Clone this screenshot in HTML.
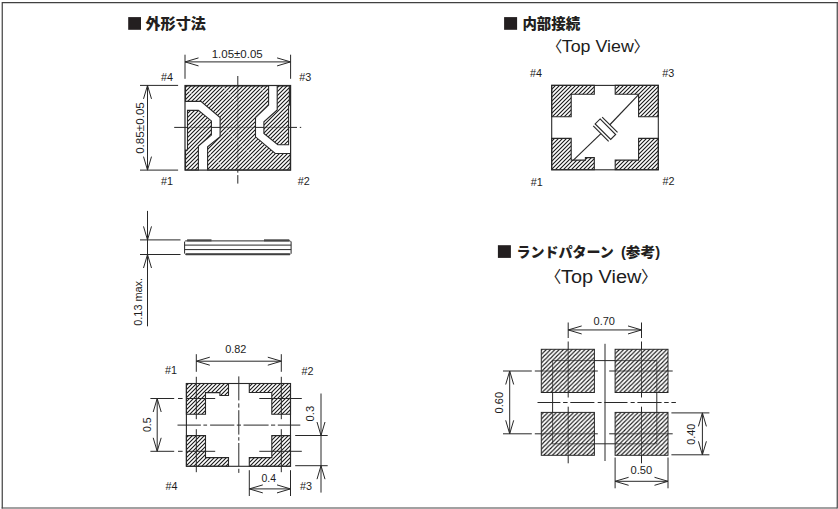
<!DOCTYPE html>
<html lang="ja">
<head>
<meta charset="utf-8">
<title>外形寸法</title>
<style>
html,body{margin:0;padding:0;background:#fff;}
body{width:838px;height:509px;overflow:hidden;font-family:"Liberation Sans", "Noto Sans CJK JP", sans-serif;}
svg{display:block;}
</style>
</head>
<body>
<svg width="838" height="509" viewBox="0 0 838 509">
<defs>
<pattern id="h1" patternUnits="userSpaceOnUse" x="1.0" y="0" width="4" height="4"><path d="M-1,1L1,-1M-1,5L5,-1M3,5L5,3" stroke="#181818" stroke-width="1.1" fill="none"/></pattern>
<pattern id="h3" patternUnits="userSpaceOnUse" x="0.0" y="0" width="4" height="4"><path d="M-1,1L1,-1M-1,5L5,-1M3,5L5,3" stroke="#181818" stroke-width="1.1" fill="none"/></pattern>
<pattern id="h4" patternUnits="userSpaceOnUse" x="1.0" y="0" width="4" height="4"><path d="M-1,1L1,-1M-1,5L5,-1M3,5L5,3" stroke="#181818" stroke-width="1.1" fill="none"/></pattern>
<pattern id="h5" patternUnits="userSpaceOnUse" x="1.44" y="0" width="4.3" height="4.3"><path d="M-1,1L1,-1M-1,5.3L5.3,-1M3.3,5.3L5.3,3.3" stroke="#181818" stroke-width="1.1" fill="none"/></pattern>
</defs>
<rect x="0" y="0" width="838" height="509" fill="#ffffff"/>
<path d="M2.25,508.5V2.55H837.9" fill="none" stroke="#404040" stroke-width="1.2"/>
<path d="M1.6,508.05H837.2" fill="none" stroke="#454545" stroke-width="1.1"/>
<path d="M837.25,1.95V508.6" fill="none" stroke="#454545" stroke-width="1.2"/>
<rect x="128.2" y="17.1" width="12.8" height="12.7" fill="#231f20"/>
<text x="145.5" y="28.6" font-size="14.5" text-anchor="start" font-weight="900" fill="#231f20" font-family='"Liberation Sans", "Noto Sans CJK JP", sans-serif' textLength="60.5" lengthAdjust="spacingAndGlyphs">外形寸法</text>
<rect x="504.1" y="17.1" width="13" height="12.7" fill="#231f20"/>
<text x="522.4" y="28.9" font-size="14.5" text-anchor="start" font-weight="900" fill="#231f20" font-family='"Liberation Sans", "Noto Sans CJK JP", sans-serif' textLength="57.8" lengthAdjust="spacingAndGlyphs">内部接続</text>
<rect x="497.9" y="245.2" width="13.0" height="12.7" fill="#231f20"/>
<text x="516.4" y="256.5" font-size="14" text-anchor="start" font-weight="900" fill="#231f20" font-family='"Liberation Sans", "Noto Sans CJK JP", sans-serif' textLength="97.3" lengthAdjust="spacingAndGlyphs">ランドパターン</text>
<text x="620.9" y="256.5" font-size="14" text-anchor="start" font-weight="900" fill="#231f20" font-family='"Liberation Sans", "Noto Sans CJK JP", sans-serif' textLength="39.2" lengthAdjust="spacingAndGlyphs">(参考)</text>
<text x="562.3" y="51.7" font-size="15.5" text-anchor="end" font-weight="normal" fill="#1c1c1c" font-family='"Liberation Sans", "Noto Sans CJK JP", sans-serif'>〈</text>
<text x="561.8" y="51.7" font-size="16.5" text-anchor="start" font-weight="normal" fill="#1c1c1c" font-family='"Liberation Sans", "Noto Sans CJK JP", sans-serif' textLength="72.0" lengthAdjust="spacingAndGlyphs">Top View</text>
<text x="633.4" y="51.7" font-size="15.5" text-anchor="start" font-weight="normal" fill="#1c1c1c" font-family='"Liberation Sans", "Noto Sans CJK JP", sans-serif'>〉</text>
<text x="561.4" y="282.3" font-size="16.3" text-anchor="end" font-weight="normal" fill="#1c1c1c" font-family='"Liberation Sans", "Noto Sans CJK JP", sans-serif'>〈</text>
<text x="561.0" y="282.7" font-size="18.3" text-anchor="start" font-weight="normal" fill="#1c1c1c" font-family='"Liberation Sans", "Noto Sans CJK JP", sans-serif' textLength="80.4" lengthAdjust="spacingAndGlyphs">Top View</text>
<text x="641.0" y="282.3" font-size="16.3" text-anchor="start" font-weight="normal" fill="#1c1c1c" font-family='"Liberation Sans", "Noto Sans CJK JP", sans-serif'>〉</text>
<line x1="174.2" y1="127.4" x2="297" y2="127.4" stroke="#282828" stroke-width="1.0"/>
<line x1="299.8" y1="127.4" x2="301.2" y2="127.4" stroke="#282828" stroke-width="1.0"/>
<line x1="237.8" y1="76" x2="237.8" y2="172.7" stroke="#282828" stroke-width="1.0"/>
<line x1="237.8" y1="175.1" x2="237.8" y2="183.6" stroke="#282828" stroke-width="1.0"/>
<polygon points="185.5,86 268.6,86 268.6,105.1 255.5,117.6 255.5,136.8 275.2,153.5 290.3,153.5 290.3,170 207.6,170 207.6,146.8 220.1,136.8 220.1,117.6 200.9,101.4 185.5,101.4" fill="#fff" fill-opacity="0.55" stroke="none"/>
<polygon points="185.5,86 268.6,86 268.6,105.1 255.5,117.6 255.5,136.8 275.2,153.5 290.3,153.5 290.3,170 207.6,170 207.6,146.8 220.1,136.8 220.1,117.6 200.9,101.4 185.5,101.4" fill="url(#h1)" stroke="#282828" stroke-width="1.1" stroke-linejoin="miter"/>
<polygon points="187.5,110.4 198.4,110.4 211.4,120.9 211.4,135.1 198.4,146 198.4,170 185.5,170 185.5,150 187.5,150" fill="#fff" fill-opacity="0.55" stroke="none"/>
<polygon points="187.5,110.4 198.4,110.4 211.4,120.9 211.4,135.1 198.4,146 198.4,170 185.5,170 185.5,150 187.5,150" fill="url(#h1)" stroke="#282828" stroke-width="1.1" stroke-linejoin="miter"/>
<polygon points="277.2,86 289.4,86 289.4,105 288.6,106 288.6,144.8 277.8,144.8 263.9,133.5 263.9,121.8 277.2,110" fill="#fff" fill-opacity="0.55" stroke="none"/>
<polygon points="277.2,86 289.4,86 289.4,105 288.6,106 288.6,144.8 277.8,144.8 263.9,133.5 263.9,121.8 277.2,110" fill="url(#h1)" stroke="#282828" stroke-width="1.1" stroke-linejoin="miter"/>
<line x1="222.9" y1="86.6" x2="237.6" y2="103" stroke="#fff" stroke-width="0.8" stroke-opacity="0.75" stroke-dasharray="5 2"/>
<line x1="226.3" y1="129.8" x2="256.6" y2="160" stroke="#fff" stroke-width="0.8" stroke-opacity="0.75" stroke-dasharray="5 2"/>
<line x1="208.2" y1="151.4" x2="221.2" y2="165.2" stroke="#fff" stroke-width="0.8" stroke-opacity="0.75" stroke-dasharray="5 2"/>
<line x1="189.2" y1="90.9" x2="194.4" y2="97.8" stroke="#fff" stroke-width="0.8" stroke-opacity="0.75" stroke-dasharray="5 2"/>
<line x1="260" y1="88.3" x2="267" y2="92.6" stroke="#fff" stroke-width="0.8" stroke-opacity="0.75" stroke-dasharray="5 2"/>
<rect x="185.0" y="85.5" width="105.6" height="84.6" fill="none" stroke="#282828" stroke-width="1.2"/>
<line x1="185" y1="54.7" x2="185" y2="78.8" stroke="#282828" stroke-width="1.0"/>
<line x1="290.6" y1="54.7" x2="290.6" y2="78.8" stroke="#282828" stroke-width="1.0"/>
<line x1="185" y1="61.9" x2="290.6" y2="61.9" stroke="#282828" stroke-width="1.0"/>
<polyline points="198.5,57.9 185,61.9 198.5,65.9" fill="none" stroke="#282828" stroke-width="1.0" stroke-linejoin="miter"/>
<polyline points="277.1,65.9 290.6,61.9 277.1,57.9" fill="none" stroke="#282828" stroke-width="1.0" stroke-linejoin="miter"/>
<text x="237.2" y="57.7" font-size="11.5" text-anchor="middle" font-weight="normal" fill="#1c1c1c" font-family='"Liberation Sans", "Noto Sans CJK JP", sans-serif' textLength="51" lengthAdjust="spacingAndGlyphs">1.05±0.05</text>
<line x1="140" y1="85.4" x2="178.1" y2="85.4" stroke="#282828" stroke-width="1.0"/>
<line x1="140" y1="170.1" x2="178.1" y2="170.1" stroke="#282828" stroke-width="1.0"/>
<line x1="147.5" y1="85.4" x2="147.5" y2="170.1" stroke="#282828" stroke-width="1.0"/>
<polyline points="151.5,98.9 147.5,85.4 143.5,98.9" fill="none" stroke="#282828" stroke-width="1.0" stroke-linejoin="miter"/>
<polyline points="143.5,156.6 147.5,170.1 151.5,156.6" fill="none" stroke="#282828" stroke-width="1.0" stroke-linejoin="miter"/>
<text x="144.1" y="128" font-size="11.5" text-anchor="middle" font-weight="normal" fill="#1c1c1c" font-family='"Liberation Sans", "Noto Sans CJK JP", sans-serif' transform="rotate(-90 144.1 128)" textLength="51.7" lengthAdjust="spacingAndGlyphs">0.85±0.05</text>
<text x="161" y="80.9" font-size="10.8" text-anchor="start" font-weight="normal" fill="#1c1c1c" font-family='"Liberation Sans", "Noto Sans CJK JP", sans-serif'>#4</text>
<text x="299.3" y="80.9" font-size="10.8" text-anchor="start" font-weight="normal" fill="#1c1c1c" font-family='"Liberation Sans", "Noto Sans CJK JP", sans-serif'>#3</text>
<text x="161" y="185.1" font-size="10.8" text-anchor="start" font-weight="normal" fill="#1c1c1c" font-family='"Liberation Sans", "Noto Sans CJK JP", sans-serif'>#1</text>
<text x="297.7" y="185.1" font-size="10.8" text-anchor="start" font-weight="normal" fill="#1c1c1c" font-family='"Liberation Sans", "Noto Sans CJK JP", sans-serif'>#2</text>
<line x1="147.5" y1="210.9" x2="147.5" y2="326.3" stroke="#282828" stroke-width="1.0"/>
<line x1="140" y1="239.9" x2="180.5" y2="239.9" stroke="#282828" stroke-width="1.0"/>
<line x1="140" y1="254.5" x2="180.5" y2="254.5" stroke="#282828" stroke-width="1.0"/>
<polyline points="143.5,226.4 147.5,239.9 151.5,226.4" fill="none" stroke="#282828" stroke-width="1.0" stroke-linejoin="miter"/>
<polyline points="151.5,268.0 147.5,254.5 143.5,268.0" fill="none" stroke="#282828" stroke-width="1.0" stroke-linejoin="miter"/>
<text x="141.6" y="301.8" font-size="11.2" text-anchor="middle" font-weight="normal" fill="#1c1c1c" font-family='"Liberation Sans", "Noto Sans CJK JP", sans-serif' transform="rotate(-90 141.6 301.8)" textLength="47.8" lengthAdjust="spacingAndGlyphs">0.13 max.</text>
<polygon points="185.6,240.9 290.2,240.9 291.1,241.8 291.1,253.4 290.2,254.3 185.6,254.3 184.6,253.4 184.6,241.8" fill="none" stroke="#282828" stroke-width="1.0" stroke-linejoin="miter"/>
<line x1="184.6" y1="245.1" x2="291.1" y2="245.1" stroke="#282828" stroke-width="1.0"/>
<line x1="184.6" y1="249.6" x2="291.1" y2="249.6" stroke="#282828" stroke-width="1.0"/>
<line x1="187.1" y1="240.35" x2="211.5" y2="240.35" stroke="#484848" stroke-width="2.1"/>
<line x1="264.0" y1="240.35" x2="289.3" y2="240.35" stroke="#484848" stroke-width="2.1"/>
<line x1="185.8" y1="254.2" x2="289.9" y2="254.2" stroke="#404040" stroke-width="1.9"/>
<polygon points="186.4,383.5 228.5,383.5 228.5,395.5 219.9,395.5 219.9,392.6 205.5,392.6 205.5,414.2 186.4,414.2" fill="url(#h3)" stroke="#282828" stroke-width="1.1" stroke-linejoin="miter"/>
<polygon points="249.3,383.5 290.5,383.5 290.5,414.2 271.8,414.2 271.8,392.5 249.3,392.5" fill="url(#h3)" stroke="#282828" stroke-width="1.1" stroke-linejoin="miter"/>
<polygon points="186.4,435.6 205.5,435.6 205.5,457.6 228.5,457.6 228.5,466.3 186.4,466.3" fill="url(#h3)" stroke="#282828" stroke-width="1.1" stroke-linejoin="miter"/>
<polygon points="271.8,435.6 290.5,435.6 290.5,466.3 249.3,466.3 249.3,457.6 271.8,457.6" fill="url(#h3)" stroke="#282828" stroke-width="1.1" stroke-linejoin="miter"/>
<rect x="186.4" y="383.5" width="104.1" height="82.8" fill="none" stroke="#282828" stroke-width="1.1"/>
<line x1="177.5" y1="425.1" x2="200.9" y2="425.1" stroke="#282828" stroke-width="1.0"/>
<line x1="203.4" y1="425.1" x2="207.1" y2="425.1" stroke="#282828" stroke-width="1.0"/>
<line x1="210.1" y1="425.1" x2="234.3" y2="425.1" stroke="#282828" stroke-width="1.0"/>
<line x1="236.8" y1="425.1" x2="241" y2="425.1" stroke="#282828" stroke-width="1.0"/>
<line x1="243.5" y1="425.1" x2="268.6" y2="425.1" stroke="#282828" stroke-width="1.0"/>
<line x1="271" y1="425.1" x2="275.2" y2="425.1" stroke="#282828" stroke-width="1.0"/>
<line x1="277.8" y1="425.1" x2="300.3" y2="425.1" stroke="#282828" stroke-width="1.0"/>
<line x1="238.8" y1="376.4" x2="238.8" y2="400.4" stroke="#282828" stroke-width="1.0"/>
<line x1="238.8" y1="403.4" x2="238.8" y2="407.6" stroke="#282828" stroke-width="1.0"/>
<line x1="238.8" y1="410.2" x2="238.8" y2="434.6" stroke="#282828" stroke-width="1.0"/>
<line x1="238.8" y1="437.2" x2="238.8" y2="440.6" stroke="#282828" stroke-width="1.0"/>
<line x1="238.8" y1="443" x2="238.8" y2="466" stroke="#282828" stroke-width="1.0"/>
<line x1="238.8" y1="468.8" x2="238.8" y2="472.9" stroke="#282828" stroke-width="1.0"/>
<line x1="196.3" y1="354.2" x2="196.3" y2="371.8" stroke="#282828" stroke-width="1.0"/>
<line x1="196.3" y1="376.8" x2="196.3" y2="419.2" stroke="#282828" stroke-width="1.0"/>
<line x1="196.3" y1="429.2" x2="196.3" y2="472.2" stroke="#282828" stroke-width="1.0"/>
<line x1="281.3" y1="354.2" x2="281.3" y2="371.8" stroke="#282828" stroke-width="1.0"/>
<line x1="281.3" y1="376.8" x2="281.3" y2="419.2" stroke="#282828" stroke-width="1.0"/>
<line x1="281.3" y1="429.2" x2="281.3" y2="472.2" stroke="#282828" stroke-width="1.0"/>
<line x1="150.4" y1="398.5" x2="174.2" y2="398.5" stroke="#282828" stroke-width="1.0"/>
<line x1="178" y1="398.5" x2="182.6" y2="398.5" stroke="#282828" stroke-width="1.0"/>
<line x1="186.4" y1="398.5" x2="215.2" y2="398.5" stroke="#282828" stroke-width="1.0"/>
<line x1="259.3" y1="398.5" x2="301.8" y2="398.5" stroke="#282828" stroke-width="1.0"/>
<line x1="150.4" y1="451.3" x2="174.2" y2="451.3" stroke="#282828" stroke-width="1.0"/>
<line x1="178" y1="451.3" x2="182.6" y2="451.3" stroke="#282828" stroke-width="1.0"/>
<line x1="186.4" y1="451.3" x2="215.2" y2="451.3" stroke="#282828" stroke-width="1.0"/>
<line x1="259.3" y1="451.3" x2="301.8" y2="451.3" stroke="#282828" stroke-width="1.0"/>
<line x1="196.3" y1="361.2" x2="281.3" y2="361.2" stroke="#282828" stroke-width="1.0"/>
<polyline points="209.8,357.2 196.3,361.2 209.8,365.2" fill="none" stroke="#282828" stroke-width="1.0" stroke-linejoin="miter"/>
<polyline points="267.8,365.2 281.3,361.2 267.8,357.2" fill="none" stroke="#282828" stroke-width="1.0" stroke-linejoin="miter"/>
<text x="235.8" y="352.7" font-size="11.3" text-anchor="middle" font-weight="normal" fill="#1c1c1c" font-family='"Liberation Sans", "Noto Sans CJK JP", sans-serif' textLength="21.2" lengthAdjust="spacingAndGlyphs">0.82</text>
<line x1="157.2" y1="398.5" x2="157.2" y2="451.3" stroke="#282828" stroke-width="1.0"/>
<polyline points="161.2,412.0 157.2,398.5 153.2,412.0" fill="none" stroke="#282828" stroke-width="1.0" stroke-linejoin="miter"/>
<polyline points="153.2,437.8 157.2,451.3 161.2,437.8" fill="none" stroke="#282828" stroke-width="1.0" stroke-linejoin="miter"/>
<text x="151.5" y="424.8" font-size="11.3" text-anchor="middle" font-weight="normal" fill="#1c1c1c" font-family='"Liberation Sans", "Noto Sans CJK JP", sans-serif' transform="rotate(-90 151.5 424.8)" textLength="14.6" lengthAdjust="spacingAndGlyphs">0.5</text>
<line x1="295.2" y1="435.5" x2="327.7" y2="435.5" stroke="#282828" stroke-width="1.0"/>
<line x1="295.2" y1="465.7" x2="327.7" y2="465.7" stroke="#282828" stroke-width="1.0"/>
<line x1="321" y1="393.5" x2="321" y2="492.6" stroke="#282828" stroke-width="1.0"/>
<polyline points="317.0,422.0 321,435.5 325.0,422.0" fill="none" stroke="#282828" stroke-width="1.0" stroke-linejoin="miter"/>
<polyline points="325.0,479.2 321,465.7 317.0,479.2" fill="none" stroke="#282828" stroke-width="1.0" stroke-linejoin="miter"/>
<text x="314.2" y="413.6" font-size="11.3" text-anchor="middle" font-weight="normal" fill="#1c1c1c" font-family='"Liberation Sans", "Noto Sans CJK JP", sans-serif' transform="rotate(-90 314.2 413.6)" textLength="15.6" lengthAdjust="spacingAndGlyphs">0.3</text>
<line x1="249.3" y1="470.2" x2="249.3" y2="496" stroke="#282828" stroke-width="1.0"/>
<line x1="290.5" y1="470.2" x2="290.5" y2="496" stroke="#282828" stroke-width="1.0"/>
<line x1="249.3" y1="488.9" x2="290.5" y2="488.9" stroke="#282828" stroke-width="1.0"/>
<polyline points="262.8,484.9 249.3,488.9 262.8,492.9" fill="none" stroke="#282828" stroke-width="1.0" stroke-linejoin="miter"/>
<polyline points="277.0,492.9 290.5,488.9 277.0,484.9" fill="none" stroke="#282828" stroke-width="1.0" stroke-linejoin="miter"/>
<text x="268.7" y="481.7" font-size="11.3" text-anchor="middle" font-weight="normal" fill="#1c1c1c" font-family='"Liberation Sans", "Noto Sans CJK JP", sans-serif' textLength="14.6" lengthAdjust="spacingAndGlyphs">0.4</text>
<text x="165" y="373.9" font-size="10.8" text-anchor="start" font-weight="normal" fill="#1c1c1c" font-family='"Liberation Sans", "Noto Sans CJK JP", sans-serif'>#1</text>
<text x="301.5" y="374.8" font-size="10.8" text-anchor="start" font-weight="normal" fill="#1c1c1c" font-family='"Liberation Sans", "Noto Sans CJK JP", sans-serif'>#2</text>
<text x="165.5" y="489.7" font-size="10.8" text-anchor="start" font-weight="normal" fill="#1c1c1c" font-family='"Liberation Sans", "Noto Sans CJK JP", sans-serif'>#4</text>
<text x="300" y="489.7" font-size="10.8" text-anchor="start" font-weight="normal" fill="#1c1c1c" font-family='"Liberation Sans", "Noto Sans CJK JP", sans-serif'>#3</text>
<polygon points="551.7,85.4 594.3,85.4 594.3,94.2 571.2,94.2 571.2,116.8 551.7,116.8" fill="url(#h4)" stroke="#282828" stroke-width="1.1" stroke-linejoin="miter"/>
<polygon points="615.2,85.4 658.3,85.4 658.3,116.8 638.6,116.8 638.6,94.2 615.2,94.2" fill="url(#h4)" stroke="#282828" stroke-width="1.1" stroke-linejoin="miter"/>
<polygon points="551.7,138.4 571.2,138.4 571.2,160.1 585.4,160.1 585.4,157.6 594.3,157.6 594.3,169.8 551.7,169.8" fill="url(#h4)" stroke="#282828" stroke-width="1.1" stroke-linejoin="miter"/>
<polygon points="638.6,138.4 658.3,138.4 658.3,169.8 615.2,169.8 615.2,160.1 638.6,160.1" fill="url(#h4)" stroke="#282828" stroke-width="1.1" stroke-linejoin="miter"/>
<rect x="551.7" y="85.4" width="106.6" height="84.4" fill="none" stroke="#282828" stroke-width="1.1"/>
<line x1="609.85" y1="124.75" x2="638.6" y2="94.7" stroke="#282828" stroke-width="1.15"/>
<line x1="600.95" y1="133.65" x2="573.4" y2="160.1" stroke="#282828" stroke-width="1.15"/>
<line x1="602.15" y1="117.04" x2="617.56" y2="132.45" stroke="#282828" stroke-width="1.15"/>
<line x1="593.24" y1="125.95" x2="608.65" y2="141.36" stroke="#282828" stroke-width="1.15"/>
<polygon points="600.1,118.95 615.65,134.5 610.7,139.45 595.15,123.9" fill="none" stroke="#282828" stroke-width="1.15" stroke-linejoin="miter"/>
<text x="530" y="76.6" font-size="10.8" text-anchor="start" font-weight="normal" fill="#1c1c1c" font-family='"Liberation Sans", "Noto Sans CJK JP", sans-serif'>#4</text>
<text x="662.2" y="76.6" font-size="10.8" text-anchor="start" font-weight="normal" fill="#1c1c1c" font-family='"Liberation Sans", "Noto Sans CJK JP", sans-serif'>#3</text>
<text x="530.8" y="185.9" font-size="10.8" text-anchor="start" font-weight="normal" fill="#1c1c1c" font-family='"Liberation Sans", "Noto Sans CJK JP", sans-serif'>#1</text>
<text x="662.4" y="184.5" font-size="10.8" text-anchor="start" font-weight="normal" fill="#1c1c1c" font-family='"Liberation Sans", "Noto Sans CJK JP", sans-serif'>#2</text>
<rect x="552.6" y="360.6" width="104.2" height="83.2" fill="none" stroke="#282828" stroke-width="1.0"/>
<line x1="537.5" y1="402.5" x2="560.4" y2="402.5" stroke="#282828" stroke-width="1.0"/>
<line x1="563.1" y1="402.5" x2="567.6" y2="402.5" stroke="#282828" stroke-width="1.0"/>
<line x1="570.3" y1="402.5" x2="594.4" y2="402.5" stroke="#282828" stroke-width="1.0"/>
<line x1="597.7" y1="402.5" x2="601.6" y2="402.5" stroke="#282828" stroke-width="1.0"/>
<line x1="604.3" y1="402.5" x2="627.5" y2="402.5" stroke="#282828" stroke-width="1.0"/>
<line x1="630.6" y1="402.5" x2="634.7" y2="402.5" stroke="#282828" stroke-width="1.0"/>
<line x1="637.4" y1="402.5" x2="661.6" y2="402.5" stroke="#282828" stroke-width="1.0"/>
<line x1="664.2" y1="402.5" x2="668.7" y2="402.5" stroke="#282828" stroke-width="1.0"/>
<line x1="671.4" y1="402.5" x2="675.9" y2="402.5" stroke="#282828" stroke-width="1.0"/>
<line x1="605.0" y1="343.8" x2="605.0" y2="461" stroke="#282828" stroke-width="1.0"/>
<line x1="568.2" y1="322.5" x2="568.2" y2="338" stroke="#282828" stroke-width="1.0"/>
<line x1="568.2" y1="341.5" x2="568.2" y2="397.5" stroke="#282828" stroke-width="1.0"/>
<line x1="568.2" y1="406.7" x2="568.2" y2="463.3" stroke="#282828" stroke-width="1.0"/>
<line x1="641.5" y1="322.5" x2="641.5" y2="338" stroke="#282828" stroke-width="1.0"/>
<line x1="641.5" y1="341.5" x2="641.5" y2="397.5" stroke="#282828" stroke-width="1.0"/>
<line x1="641.5" y1="406.7" x2="641.5" y2="463.3" stroke="#282828" stroke-width="1.0"/>
<line x1="503" y1="371" x2="531.8" y2="371" stroke="#282828" stroke-width="1.0"/>
<line x1="534.8" y1="371" x2="597.8" y2="371" stroke="#282828" stroke-width="1.0"/>
<line x1="609.2" y1="371" x2="672.7" y2="371" stroke="#282828" stroke-width="1.0"/>
<line x1="503" y1="433.8" x2="531.8" y2="433.8" stroke="#282828" stroke-width="1.0"/>
<line x1="534.8" y1="433.8" x2="597.8" y2="433.8" stroke="#282828" stroke-width="1.0"/>
<line x1="609.2" y1="433.8" x2="672.7" y2="433.8" stroke="#282828" stroke-width="1.0"/>
<rect x="541.3" y="349.3" width="53.1" height="43.2" fill="#fff" fill-opacity="0.3" stroke="none"/>
<rect x="541.3" y="349.3" width="53.1" height="43.2" fill="url(#h5)" stroke="#282828" stroke-width="1.0"/>
<rect x="541.3" y="412.4" width="53.1" height="42.9" fill="#fff" fill-opacity="0.3" stroke="none"/>
<rect x="541.3" y="412.4" width="53.1" height="42.9" fill="url(#h5)" stroke="#282828" stroke-width="1.0"/>
<rect x="615.1" y="349.3" width="52.9" height="43.2" fill="#fff" fill-opacity="0.3" stroke="none"/>
<rect x="615.1" y="349.3" width="52.9" height="43.2" fill="url(#h5)" stroke="#282828" stroke-width="1.0"/>
<rect x="615.1" y="412.4" width="52.9" height="42.9" fill="#fff" fill-opacity="0.3" stroke="none"/>
<rect x="615.1" y="412.4" width="52.9" height="42.9" fill="url(#h5)" stroke="#282828" stroke-width="1.0"/>
<line x1="568.2" y1="329.95" x2="641.5" y2="329.95" stroke="#282828" stroke-width="1.0"/>
<polyline points="581.7,325.95 568.2,329.95 581.7,333.95" fill="none" stroke="#282828" stroke-width="1.0" stroke-linejoin="miter"/>
<polyline points="628.0,333.95 641.5,329.95 628.0,325.95" fill="none" stroke="#282828" stroke-width="1.0" stroke-linejoin="miter"/>
<text x="604.3" y="324.6" font-size="11.3" text-anchor="middle" font-weight="normal" fill="#1c1c1c" font-family='"Liberation Sans", "Noto Sans CJK JP", sans-serif' textLength="21.4" lengthAdjust="spacingAndGlyphs">0.70</text>
<line x1="509.7" y1="371" x2="509.7" y2="433.8" stroke="#282828" stroke-width="1.0"/>
<polyline points="513.7,384.5 509.7,371 505.7,384.5" fill="none" stroke="#282828" stroke-width="1.0" stroke-linejoin="miter"/>
<polyline points="505.7,420.3 509.7,433.8 513.7,420.3" fill="none" stroke="#282828" stroke-width="1.0" stroke-linejoin="miter"/>
<text x="503.2" y="402.7" font-size="11.3" text-anchor="middle" font-weight="normal" fill="#1c1c1c" font-family='"Liberation Sans", "Noto Sans CJK JP", sans-serif' transform="rotate(-90 503.2 402.7)" textLength="21.4" lengthAdjust="spacingAndGlyphs">0.60</text>
<line x1="671.4" y1="412.9" x2="709.4" y2="412.9" stroke="#282828" stroke-width="1.0"/>
<line x1="671.4" y1="454.8" x2="709.4" y2="454.8" stroke="#282828" stroke-width="1.0"/>
<line x1="702.4" y1="412.9" x2="702.4" y2="454.8" stroke="#282828" stroke-width="1.0"/>
<polyline points="706.4,426.4 702.4,412.9 698.4,426.4" fill="none" stroke="#282828" stroke-width="1.0" stroke-linejoin="miter"/>
<polyline points="698.4,441.3 702.4,454.8 706.4,441.3" fill="none" stroke="#282828" stroke-width="1.0" stroke-linejoin="miter"/>
<text x="694.7" y="434.3" font-size="11.3" text-anchor="middle" font-weight="normal" fill="#1c1c1c" font-family='"Liberation Sans", "Noto Sans CJK JP", sans-serif' transform="rotate(-90 694.7 434.3)" textLength="21" lengthAdjust="spacingAndGlyphs">0.40</text>
<line x1="615.1" y1="457.5" x2="615.1" y2="488.3" stroke="#282828" stroke-width="1.0"/>
<line x1="668" y1="457.5" x2="668" y2="488.3" stroke="#282828" stroke-width="1.0"/>
<line x1="615.1" y1="481.3" x2="668" y2="481.3" stroke="#282828" stroke-width="1.0"/>
<polyline points="628.6,477.3 615.1,481.3 628.6,485.3" fill="none" stroke="#282828" stroke-width="1.0" stroke-linejoin="miter"/>
<polyline points="654.5,485.3 668,481.3 654.5,477.3" fill="none" stroke="#282828" stroke-width="1.0" stroke-linejoin="miter"/>
<text x="641.4" y="474.4" font-size="11.3" text-anchor="middle" font-weight="normal" fill="#1c1c1c" font-family='"Liberation Sans", "Noto Sans CJK JP", sans-serif' textLength="21.7" lengthAdjust="spacingAndGlyphs">0.50</text>
</svg>
</body>
</html>
